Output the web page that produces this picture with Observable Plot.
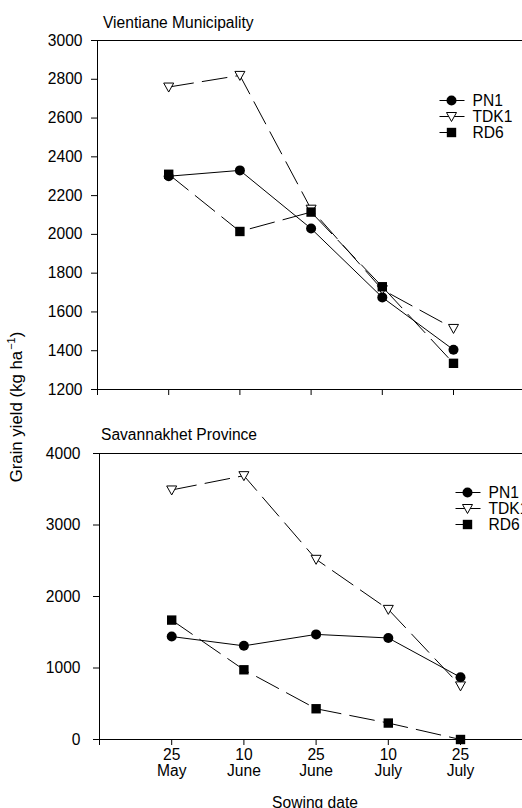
<!DOCTYPE html>
<html>
<head>
<meta charset="utf-8">
<script src="https://cdn.jsdelivr.net/npm/d3@7"></script>
<script src="https://cdn.jsdelivr.net/npm/@observablehq/plot@0.6"></script>
<style>
  html, body { margin: 0; padding: 0; background: #fff; overflow: hidden; }
  #chart {
    position: relative; width: 522px; height: 808px; overflow: hidden;
    font-family: "Liberation Sans", Arial, sans-serif; color: #000; background: #fff;
  }
  #chart > svg, #chart > div { position: absolute; }
  .title { font-size: 15.6px; white-space: nowrap; line-height: 1; }
  .ylabel { font-size: 16.8px; white-space: nowrap; line-height: 1;
            transform: translate(-50%, -50%) rotate(-90deg); }
  .ylabel sup { font-size: 11px; vertical-align: 7px; line-height: 0; margin-left: 1px; }
  .xlabel { font-size: 15.6px; white-space: nowrap; line-height: 1; transform: translateX(-50%); }
</style>
</head>
<body>
<div id="chart"></div>
<script>
// Sowing dates (x categories) and varieties
const sowingDates = ["25\nMay", "10\nJune", "25\nJune", "10\nJuly", "25\nJuly"];
const varieties = ["PN1", "TDK1", "RD6"];

// Grain yield (kg/ha), Vientiane Municipality
const vientianePN1  = [2300, 2330, 2030, 1675, 1405];
const vientianeTDK1 = [2760, 2820, 2130, 1715, 1515];
const vientianeRD6  = [2310, 2015, 2115, 1730, 1335];

// Grain yield (kg/ha), Savannakhet Province
const savannakhetPN1  = [1440, 1310, 1470, 1420, 870];
const savannakhetTDK1 = [3490, 3690, 2520, 1820, 750];
const savannakhetRD6  = [1670, 975, 430, 230, 0];

// Axis ticks
const vientianeTicks = [1200, 1400, 1600, 1800, 2000, 2200, 2400, 2600, 2800, 3000];
const savannakhetTicks = [0, 1000, 2000, 3000, 4000];

const FONT = "Liberation Sans, Arial, sans-serif";

// Downward-pointing open triangle
const triangleDown = {
  draw(ctx, size) {
    const r = Math.sqrt(size / Math.PI);
    ctx.moveTo(-r, -0.8 * r);
    ctx.lineTo(r, -0.8 * r);
    ctx.lineTo(0, r);
    ctx.closePath();
  }
};

const styles = {
  PN1:  {dash: null,   symbol: "circle", r: 5,    fill: "#000", stroke: "none"},
  TDK1: {dash: "25,9", symbol: triangleDown, r: 5, fill: "#fff", stroke: "#000"},
  RD6:  {dash: "25,9", symbol: "square", r: 5.3,  fill: "#000", stroke: "none"}
};

function rows(series) {
  const out = [];
  varieties.forEach((v, k) => series[k].forEach((value, i) => out.push({variety: v, x: i + 1, value})));
  return out;
}

const chart = document.getElementById("chart");

function panel({data, ticks, yDomain, top, height, marginTop, marginBottom, marginLeft, xMax, tickPadding, labels}) {
  const lineMarks = varieties.map(v => Plot.line(data.filter(d => d.variety === v), {
    x: "x", y: "value", stroke: "#000", strokeWidth: 1,
    strokeDasharray: styles[v].dash
  }));
  const dotOrder = ["TDK1", "PN1", "RD6"];
  const dotMarks = dotOrder.map(v => Plot.dot(data.filter(d => d.variety === v), {
    x: "x", y: "value", symbol: styles[v].symbol, r: styles[v].r,
    fill: styles[v].fill, stroke: styles[v].stroke, strokeWidth: 1
  }));
  const svg = Plot.plot({
    width: 522, height, marginTop, marginBottom, marginLeft, marginRight: 0,
    style: {fontFamily: FONT, fontSize: "15.6px", color: "#000", background: "transparent", overflow: "visible"},
    x: {domain: [0, xMax]},
    y: {domain: yDomain},
    marks: [
      Plot.ruleY([yDomain[0], yDomain[1]], {stroke: "#000", strokeWidth: 1}),
      Plot.ruleX([0], {stroke: "#000", strokeWidth: 1}),
      Plot.axisY({ticks, tickSize: 6, tickPadding, label: null, tickFormat: d => String(d)}),
      Plot.axisX({
        ticks: [0, 1, 2, 3, 4, 5], tickSize: 6, tickPadding: 3, label: null, lineHeight: 1.02,
        tickFormat: i => (labels && i > 0) ? sowingDates[i - 1] : ""
      }),
      ...lineMarks,
      ...dotMarks
    ]
  });
  svg.style.left = "0px";
  svg.style.top = top + "px";
  chart.appendChild(svg);
}

function legend(left, top) {
  const items = varieties.map(v => ({variety: v}));
  const svg = Plot.plot({
    width: 80, height: 50, margin: 0,
    style: {fontFamily: FONT, fontSize: "15.6px", color: "#000", background: "transparent", overflow: "visible"},
    x: {domain: [0, 80], range: [0, 80], axis: null},
    y: {type: "point", domain: varieties, range: [8, 41], padding: 0, axis: null},
    marks: [
      ...varieties.map(v => Plot.link(items.filter(d => d.variety === v), {
        x1: () => 1, x2: () => 26, y1: "variety", y2: "variety",
        stroke: "#000", strokeWidth: 1, strokeDasharray: v === "RD6" ? "11,4,1,20" : null
      })),
      ...varieties.map(v => Plot.dot(items.filter(d => d.variety === v), {
        x: () => 13, y: "variety", symbol: styles[v].symbol, r: styles[v].r,
        fill: styles[v].fill, stroke: styles[v].stroke, strokeWidth: 1
      })),
      Plot.text(items, {x: () => 34, y: "variety", text: "variety", textAnchor: "start", lineAnchor: "middle", fill: "#000"})
    ]
  });
  svg.style.left = left + "px";
  svg.style.top = top + "px";
  chart.appendChild(svg);
}

function html(cls, text, left, top) {
  const el = document.createElement("div");
  el.className = cls;
  el.innerHTML = text;
  el.style.left = left + "px";
  el.style.top = top + "px";
  chart.appendChild(el);
}

// Upper panel: Vientiane Municipality
panel({
  data: rows([vientianePN1, vientianeTDK1, vientianeRD6]),
  ticks: vientianeTicks, yDomain: [1200, 3000],
  top: 0, height: 410, marginTop: 40, marginBottom: 21, marginLeft: 97,
  xMax: (522 - 97) / 71.2, tickPadding: 9, labels: false
});
legend(438, 91);
html("title", "Vientiane Municipality", 103, 15);

// Lower panel: Savannakhet Province
panel({
  data: rows([savannakhetPN1, savannakhetTDK1, savannakhetRD6]),
  ticks: savannakhetTicks, yDomain: [0, 4000],
  top: 410, height: 398, marginTop: 43, marginBottom: 69, marginLeft: 99,
  xMax: (522 - 99) / 72.2, tickPadding: 13, labels: true
});
legend(454, 483);
html("title", "Savannakhet Province", 101, 427);

// Shared axis titles
html("ylabel", "Grain yield (kg ha<sup>\u22121</sup>)", 17, 407);
html("xlabel", "Sowing date", 315, 795);
</script>
</body>
</html>
